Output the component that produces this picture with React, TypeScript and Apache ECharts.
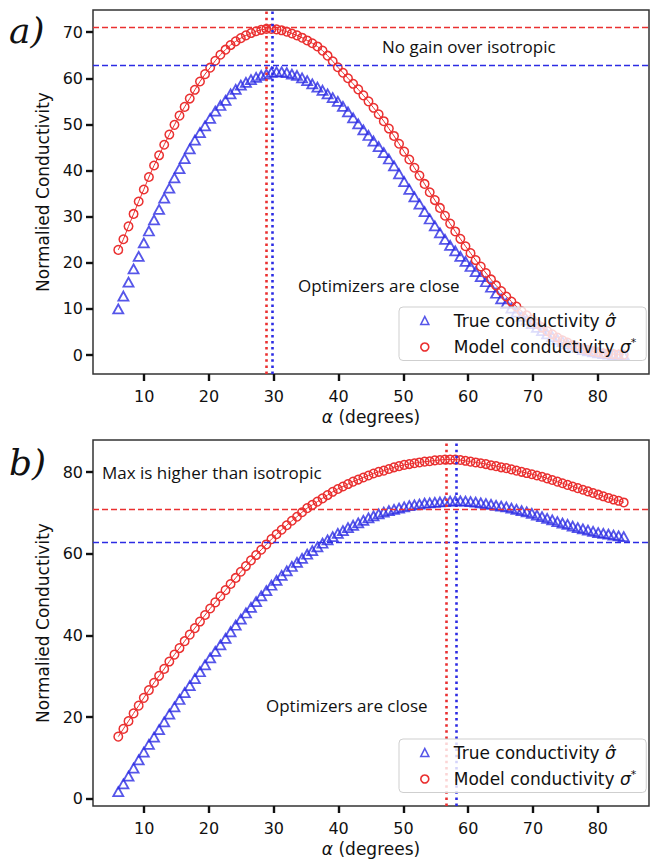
import React, { useEffect, useRef } from 'react';
import * as echarts from 'echarts';

// angle alpha (degrees) shared by every series
const ALPHA = [
  6.0, 6.79, 7.58, 8.36, 9.15, 9.94, 10.73, 11.52, 12.3, 13.09,
  13.88, 14.67, 15.45, 16.24, 17.03, 17.82, 18.61, 19.39, 20.18, 20.97,
  21.76, 22.55, 23.33, 24.12, 24.91, 25.7, 26.48, 27.27, 28.06, 28.85,
  29.64, 30.42, 31.21, 32.0, 32.79, 33.58, 34.36, 35.15, 35.94, 36.73,
  37.52, 38.3, 39.09, 39.88, 40.67, 41.45, 42.24, 43.03, 43.82, 44.61,
  45.39, 46.18, 46.97, 47.76, 48.55, 49.33, 50.12, 50.91, 51.7, 52.48,
  53.27, 54.06, 54.85, 55.64, 56.42, 57.21, 58.0, 58.79, 59.58, 60.36,
  61.15, 61.94, 62.73, 63.52, 64.3, 65.09, 65.88, 66.67, 67.45, 68.24,
  69.03, 69.82, 70.61, 71.39, 72.18, 72.97, 73.76, 74.55, 75.33, 76.12,
  76.91, 77.7, 78.48, 79.27, 80.06, 80.85, 81.64, 82.42, 83.21, 84.0,
];

// panel a)
const A_TRUE = [
  10.0, 12.8, 15.8, 18.7, 21.4, 24.3, 26.9, 29.3, 31.6, 34.0,
  36.2, 38.4, 40.4, 42.6, 44.7, 46.6, 48.2, 49.7, 51.3, 52.9,
  54.1, 55.2, 56.6, 57.6, 58.5, 59.1, 59.7, 60.2, 60.6, 60.9,
  61.3, 61.4, 61.4, 61.2, 60.9, 60.6, 60.1, 59.5, 58.8, 58.1,
  57.4, 56.6, 55.8, 55.0, 53.9, 52.7, 51.4, 50.1, 48.8, 47.6,
  46.4, 45.2, 43.9, 42.5, 41.0, 39.3, 37.6, 35.9, 34.3, 32.7,
  31.1, 29.5, 28.0, 26.5, 25.1, 23.8, 22.6, 21.4, 20.3, 19.2,
  18.1, 17.0, 15.9, 14.7, 13.4, 12.2, 11.2, 10.2, 9.3, 8.4,
  7.6, 6.8, 6.0, 5.3, 4.6, 4.0, 3.4, 2.9, 2.4, 2.0,
  1.6, 1.2, 0.9, 0.7, 0.5, 0.3, 0.2, 0.1, 0.0, 0.0,
];
const A_MODEL = [
  22.8, 25.1, 27.9, 30.6, 33.3, 35.9, 38.6, 41.1, 43.3, 45.6,
  47.8, 49.9, 51.9, 53.8, 55.6, 57.5, 59.3, 60.9, 62.3, 63.8,
  65.1, 66.2, 67.2, 68.0, 68.7, 69.3, 69.8, 70.2, 70.5, 70.7,
  70.7, 70.6, 70.4, 70.1, 69.7, 69.3, 68.8, 68.2, 67.6, 66.9,
  66.0, 64.9, 63.7, 62.4, 61.2, 60.0, 58.8, 57.6, 56.3, 55.0,
  53.6, 52.2, 50.7, 49.1, 47.5, 45.8, 44.1, 42.4, 40.6, 38.9,
  37.1, 35.3, 33.6, 31.9, 30.2, 28.5, 26.8, 25.2, 23.6, 22.1,
  20.6, 19.2, 17.8, 16.4, 15.1, 13.9, 12.7, 11.6, 10.5, 9.5,
  8.6, 7.7, 6.8, 6.0, 5.2, 4.5, 3.8, 3.2, 2.7, 2.2,
  1.8, 1.4, 1.1, 0.8, 0.6, 0.4, 0.3, 0.2, 0.1, 0.1,
];

// panel b)
const B_TRUE = [
  1.7, 3.6, 5.5, 7.5, 9.5, 11.4, 13.3, 15.1, 16.9, 18.8,
  20.7, 22.5, 24.3, 26.0, 27.7, 29.4, 31.1, 32.8, 34.5, 36.1,
  37.7, 39.3, 40.9, 42.5, 44.0, 45.5, 46.9, 48.3, 49.7, 51.0,
  52.3, 53.5, 54.7, 55.8, 56.9, 57.9, 58.9, 59.9, 60.8, 61.7,
  62.6, 63.4, 64.2, 65.0, 65.7, 66.4, 67.0, 67.6, 68.2, 68.8,
  69.3, 69.8, 70.2, 70.6, 70.9, 71.2, 71.5, 71.8, 72.0, 72.2,
  72.4, 72.5, 72.6, 72.7, 72.8, 72.9, 73.0, 72.95, 72.9, 72.8,
  72.65, 72.5, 72.3, 72.1, 71.9, 71.7, 71.5, 71.2, 70.9, 70.6,
  70.3, 69.9, 69.5, 69.1, 68.7, 68.3, 67.9, 67.5, 67.2, 66.8,
  66.4, 66.1, 65.8, 65.5, 65.2, 65.0, 64.8, 64.6, 64.4, 64.2,
];
const B_MODEL = [
  15.2, 17.1, 19.0, 20.9, 22.8, 24.7, 26.6, 28.4, 30.1, 31.8,
  33.6, 35.3, 36.9, 38.6, 40.2, 41.8, 43.4, 45.0, 46.6, 48.1,
  49.6, 51.1, 52.6, 54.1, 55.6, 57.0, 58.4, 59.7, 61.0, 62.3,
  63.6, 64.8, 65.9, 67.0, 68.1, 69.1, 70.2, 71.2, 72.0, 72.8,
  73.6, 74.4, 75.2, 75.9, 76.5, 77.1, 77.7, 78.2, 78.7, 79.2,
  79.7, 80.1, 80.4, 80.8, 81.2, 81.5, 81.8, 82.0, 82.2, 82.4,
  82.6, 82.7, 82.9, 83.0, 83.1, 83.1, 83.1, 83.0, 82.8, 82.6,
  82.4, 82.2, 82.0, 81.7, 81.5, 81.2, 81.0, 80.7, 80.4, 80.1,
  79.8, 79.5, 79.2, 78.9, 78.5, 78.1, 77.7, 77.3, 76.9, 76.5,
  76.1, 75.7, 75.3, 74.9, 74.5, 74.1, 73.7, 73.3, 73.0, 72.6,
];

// isotropic reference levels and optimizer locations
const ISO_MODEL = 71.0;
const ISO_TRUE = 62.8;
const A_ARGMAX = { model: 28.8, true: 29.7 };
const B_ARGMAX = { model: 56.6, true: 58.2 };

const X_TICKS = [10, 20, 30, 40, 50, 60, 70, 80];
const A_Y_TICKS = [0, 10, 20, 30, 40, 50, 60, 70];
const B_Y_TICKS = [0, 20, 40, 60, 80];
const X_RANGE = [2.1, 87.9];
const A_Y_RANGE = [-4.1, 74.8];
const B_Y_RANGE = [-1.8, 87.9];

const NAMES = ['True conductivity', 'Model conductivity'];
const Y_NAME = 'Normalied Conductivity';

const RED = '#ea3030';
const BLUE = '#2c2ce4';
const FONT = 'DejaVu Sans';

function pairs(ys: number[]) {
  return ALPHA.map((x, i) => [x, ys[i]]);
}

function xAxis(gridIndex: number) {
  return {
    type: 'value', gridIndex, min: X_RANGE[0], max: X_RANGE[1],
    name: '{i|α} (degrees)', nameLocation: 'middle', nameGap: 34,
    nameTextStyle: {
      fontFamily: FONT, fontSize: 17, color: '#111',
      rich: { i: { fontFamily: FONT, fontStyle: 'italic', fontSize: 17, color: '#111' } },
    },
    axisLine: { show: false, onZero: false },
    axisTick: { show: true, length: 7, customValues: X_TICKS, lineStyle: { width: 2.4, color: '#111' } },
    axisLabel: { customValues: X_TICKS, margin: 14, fontFamily: FONT, fontSize: 16, color: '#111' },
    splitLine: { show: false },
  };
}

function yAxis(gridIndex: number, range: number[], ticks: number[]) {
  return {
    type: 'value', gridIndex, min: range[0], max: range[1],
    name: Y_NAME, nameLocation: 'middle', nameGap: 41,
    nameTextStyle: { fontFamily: FONT, fontSize: 17, color: '#111' },
    axisLine: { show: false, onZero: false },
    axisTick: { show: true, length: 7, customValues: ticks, lineStyle: { width: 2.4, color: '#111' } },
    axisLabel: { customValues: ticks, margin: 10, fontFamily: FONT, fontSize: 16, color: '#111' },
    splitLine: { show: false },
  };
}

function guides(argmax: { model: number; true: number }) {
  const dash = (c: string) => ({ color: c, type: [6, 3], width: 1.4 });
  const dot = (c: string) => ({ color: c, type: [2.5, 3.6], width: 2.6 });
  return {
    silent: true, symbol: ['none', 'none'], label: { show: false },
    emphasis: { disabled: true },
    data: [
      { yAxis: ISO_MODEL, lineStyle: dash(RED) },
      { yAxis: ISO_TRUE, lineStyle: dash(BLUE) },
      { xAxis: argmax.model, lineStyle: dot(RED) },
      { xAxis: argmax.true, lineStyle: dot(BLUE) },
    ],
  };
}

function trueSeries(idx: number, ys: number[], argmax: { model: number; true: number }) {
  return {
    type: 'scatter', name: NAMES[0], xAxisIndex: idx, yAxisIndex: idx,
    data: pairs(ys), symbol: 'triangle', symbolSize: [10, 9],
    itemStyle: { color: 'rgba(0,0,0,0)', borderColor: BLUE, borderWidth: 1.8 },
    emphasis: { disabled: true },
    markLine: guides(argmax),
    z: 3,
  };
}

function modelSeries(idx: number, ys: number[]) {
  return {
    type: 'line', name: NAMES[1], xAxisIndex: idx, yAxisIndex: idx,
    data: pairs(ys), symbol: 'circle', symbolSize: 8.5, showSymbol: true, showAllSymbol: true,
    lineStyle: { color: RED, width: 1 },
    itemStyle: { color: 'rgba(0,0,0,0)', borderColor: RED, borderWidth: 1.5 },
    emphasis: { disabled: true },
    z: 4,
  };
}

function legend(top: number) {
  return {
    show: true, orient: 'vertical', left: 399, top, selectedMode: false,
    backgroundColor: 'rgba(255,255,255,0.8)', borderColor: '#cfcfcf', borderWidth: 1, borderRadius: 4,
    padding: [5, 10, 5, 21], itemGap: 8, itemWidth: 8, itemHeight: 8,
    data: [
      { name: NAMES[0], icon: 'triangle', itemStyle: { color: 'rgba(0,0,0,0)', borderColor: BLUE, borderWidth: 1.6 } },
      { name: NAMES[1], icon: 'circle', itemStyle: { color: 'rgba(0,0,0,0)', borderColor: RED, borderWidth: 1.6 } },
    ],
    formatter: (n: string) => (n === NAMES[0] ? '{t|' + n + ' }{m|σ̂}' : '{t|' + n + ' }{m|σ}{s|*}'),
    textStyle: {
      fontFamily: FONT, fontSize: 17, color: '#111',
      rich: {
        t: { fontFamily: FONT, fontSize: 17, color: '#111', padding: [0, 0, 0, 20], lineHeight: 20 },
        m: { fontFamily: FONT, fontStyle: 'italic', fontSize: 17, color: '#111', lineHeight: 20 },
        s: { fontFamily: FONT, fontSize: 11, color: '#111', verticalAlign: 'top', lineHeight: 20 },
      },
    },
    z: 10,
  };
}

const NOTE_FONT = '17px "Open Sans"';

export default function App() {
  const ref = useRef<HTMLDivElement>(null);
  useEffect(() => {
    if (!ref.current) return;
    const chart = echarts.init(ref.current, undefined, { renderer: 'svg' });
    chart.setOption({
      animation: false,
      backgroundColor: '#ffffff',
      textStyle: { fontFamily: FONT },
      grid: [
        { left: 93, top: 10, width: 556, height: 364, show: true, borderColor: '#333', borderWidth: 1.5, backgroundColor: 'transparent' },
        { left: 93, top: 440, width: 556, height: 366, show: true, borderColor: '#333', borderWidth: 1.5, backgroundColor: 'transparent' },
      ],
      xAxis: [xAxis(0), xAxis(1)],
      yAxis: [yAxis(0, A_Y_RANGE, A_Y_TICKS), yAxis(1, B_Y_RANGE, B_Y_TICKS)],
      legend: [legend(307), legend(739)],
      series: [
        trueSeries(0, A_TRUE, A_ARGMAX),
        modelSeries(0, A_MODEL),
        trueSeries(1, B_TRUE, B_ARGMAX),
        modelSeries(1, B_MODEL),
      ],
      graphic: [
        { type: 'text', x: 9, y: 30, style: { text: 'a)', font: 'italic 36px "DejaVu Serif"', fill: '#111', verticalAlign: 'middle' } },
        { type: 'text', x: 9, y: 462, style: { text: 'b)', font: 'italic 36px "DejaVu Serif"', fill: '#111', verticalAlign: 'middle' } },
        { type: 'text', x: 382, y: 46, style: { text: 'No gain over isotropic', font: NOTE_FONT, fill: '#111', verticalAlign: 'middle' } },
        { type: 'text', x: 298, y: 285, style: { text: 'Optimizers are close', font: NOTE_FONT, fill: '#111', verticalAlign: 'middle' } },
        { type: 'text', x: 102, y: 472, style: { text: 'Max is higher than isotropic', font: NOTE_FONT, fill: '#111', verticalAlign: 'middle' } },
        { type: 'text', x: 266, y: 705, style: { text: 'Optimizers are close', font: NOTE_FONT, fill: '#111', verticalAlign: 'middle' } },
      ],
    });
    return () => chart.dispose();
  }, []);
  return (
    <div
      ref={ref}
      style={{ position: 'absolute', left: 0, top: 0, width: 650, height: 863, background: '#fff' }}
    />
  );
}
